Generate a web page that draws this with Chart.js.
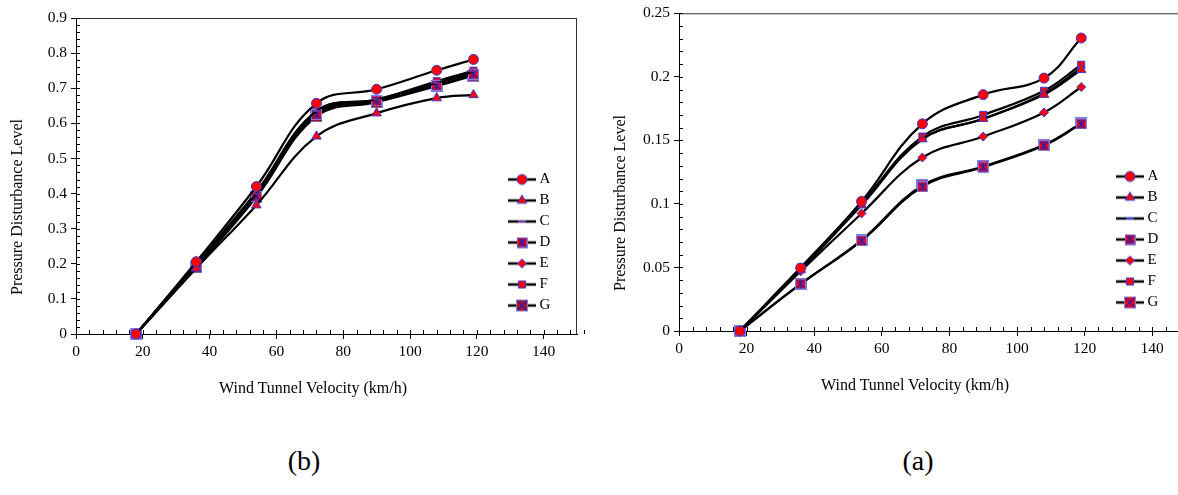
<!DOCTYPE html>
<html>
<head>
<meta charset="utf-8">
<script src="https://cdn.jsdelivr.net/npm/chart.js"></script>
<style>
  body { margin: 0; width: 1178px; height: 495px; overflow: hidden; background: #fff; position: relative; }
  canvas { position: absolute; top: 0; }
  .lab { position: absolute; font-family: 'Liberation Serif', 'Times New Roman', serif; font-size: 16px;
         line-height: 1; white-space: nowrap; color: #000; transform: translate(-50%, -50%); }
  .ylab { transform: translate(-50%, -50%) rotate(-90deg); }
  .panel { font-size: 28px; }
</style>
</head>
<body>
<canvas id="chartB" width="600" height="420" style="left:0"></canvas>
<canvas id="chartA" width="620" height="420" style="left:590px"></canvas>

<div class="lab ylab" style="left:17px;top:207px">Pressure Disturbance Level</div>
<div class="lab ylab" style="left:620px;top:203px">Pressure Disturbance Level</div>
<div class="lab" style="left:313px;top:388px">Wind Tunnel Velocity (km/h)</div>
<div class="lab" style="left:915px;top:385px">Wind Tunnel Velocity (km/h)</div>
<div class="lab panel" style="left:304px;top:461px">(b)</div>
<div class="lab panel" style="left:918px;top:461px">(a)</div>

<script>
// wind tunnel velocities (km/h)
const velocity = [18, 36, 54, 72, 90, 108, 119];
const seriesNames = ['A', 'B', 'C', 'D', 'E', 'F', 'G'];

// panel (b)
const bA = [0, 0.206, 0.42, 0.657, 0.697, 0.751, 0.782];
const bB = [0, 0.187, 0.367, 0.563, 0.629, 0.672, 0.681];
const bC = [0, 0.2, 0.4, 0.635, 0.668, 0.715, 0.748];
const bD = [0, 0.195, 0.392, 0.625, 0.664, 0.708, 0.74];
const bE = [0, 0.2, 0.4, 0.63, 0.666, 0.714, 0.745];
const bF = [0, 0.2, 0.405, 0.634, 0.668, 0.72, 0.75];
const bG = [0, 0.19, 0.39, 0.62, 0.66, 0.706, 0.736];

// panel (a)
const aA = [0, 0.0495, 0.102, 0.163, 0.186, 0.199, 0.2305];
const aB = [0, 0.048, 0.099, 0.151, 0.167, 0.186, 0.2055];
const aC = [0, 0.048, 0.1, 0.151, 0.167, 0.187, 0.207];
const aD = [0, 0.037, 0.071, 0.1135, 0.129, 0.146, 0.163];
const aE = [0, 0.047, 0.0925, 0.1365, 0.153, 0.172, 0.192];
const aF = [0, 0.05, 0.1005, 0.153, 0.17, 0.189, 0.2095];
const aG = [0, 0.037, 0.0715, 0.1145, 0.1295, 0.1465, 0.1635];

// tick labels
const xTicks = [0, 20, 40, 60, 80, 100, 120, 140];
const bYTicks = [0, 0.1, 0.2, 0.3, 0.4, 0.5, 0.6, 0.7, 0.8, 0.9];
const aYTicks = [0, 0.05, 0.1, 0.15, 0.2, 0.25];

Chart.defaults.font.family = "'Liberation Serif', 'Times New Roman', serif";
Chart.defaults.color = '#000';

const RED = '#ff0000';
const BLUE = '#3b3bd6';

// red square with blue cross (and optional vertical bar)
function squareMark(size, fill, star) {
    const c = document.createElement('canvas');
    c.width = size; c.height = size;
    const g = c.getContext('2d');
    g.fillStyle = fill;
    g.fillRect(0, 0, size, size);
    g.strokeStyle = '#7f7fe8';
    g.lineWidth = 1;
    g.strokeRect(0.5, 0.5, size - 1, size - 1);
    g.strokeStyle = '#2020c0';
    g.lineWidth = 1.3;
    g.beginPath();
    g.moveTo(1.5, 1.5); g.lineTo(size - 1.5, size - 1.5);
    g.moveTo(size - 1.5, 1.5); g.lineTo(1.5, size - 1.5);
    if (star) { g.moveTo(size / 2, 1); g.lineTo(size / 2, size - 1); }
    g.stroke();
    return c;
}

// marker look for each series
function markers(dashColor, gFill) {
    return [
        { pointStyle: 'circle', pointRadius: 5 },
        { pointStyle: 'triangle', pointRadius: 5.5 },
        { pointStyle: 'line', pointRadius: 4, pointBorderColor: dashColor, pointBorderWidth: 2 },
        { pointStyle: squareMark(11, RED, true), pointRadius: 5.5 },
        { pointStyle: 'rectRot', pointRadius: 4.5 },
        { pointStyle: 'rect', pointRadius: 5 },
        { pointStyle: squareMark(12, gFill, false), pointRadius: 6 }
    ];
}

// legend icon: black line with the marker in the middle
function legendIcon(ds) {
    const c = document.createElement('canvas');
    c.width = 28; c.height = 16;
    const g = c.getContext('2d');
    g.strokeStyle = '#000';
    g.lineWidth = 2.5;
    g.beginPath(); g.moveTo(0, 8); g.lineTo(28, 8); g.stroke();
    g.fillStyle = ds.pointBackgroundColor;
    g.strokeStyle = ds.pointBorderColor;
    g.lineWidth = ds.pointBorderWidth;
    Chart.helpers.drawPoint(g, {
        pointStyle: ds.pointStyle, radius: ds.pointRadius, rotation: 0, borderWidth: ds.pointBorderWidth
    }, 14, 8);
    return c;
}

function makeDatasets(series, looks) {
    return series.map((vals, i) => Object.assign({
        label: seriesNames[i],
        data: velocity.map((v, j) => ({ x: v, y: vals[j] })),
        borderColor: '#000',
        borderWidth: 2.2,
        tension: 0.4,
        fill: false,
        clip: false,
        pointBackgroundColor: RED,
        pointBorderColor: BLUE,
        pointBorderWidth: 1
    }, looks[i]));
}

// inner tick marks + top/right frame
const axisExtras = {
    id: 'axisExtras',
    beforeDatasetsDraw(chart, args, opts) {
        const { ctx, chartArea: a, scales: { x, y } } = chart;
        ctx.save();
        ctx.lineWidth = 1;
        ctx.strokeStyle = '#333';
        ctx.beginPath();
        ctx.moveTo(a.left, a.top + 0.5); ctx.lineTo(a.right, a.top + 0.5);
        ctx.moveTo(a.right - 0.5, a.top); ctx.lineTo(a.right - 0.5, a.bottom);
        ctx.stroke();
        ctx.strokeStyle = '#000';
        ctx.beginPath();
        const nx = Math.round((x.max - x.min) / opts.xStep);
        for (let i = 0; i <= nx; i++) {
            const px = Math.round(x.getPixelForValue(x.min + i * opts.xStep)) + 0.5;
            ctx.moveTo(px, a.bottom); ctx.lineTo(px, a.bottom - 4);
        }
        const ny = Math.round((y.max - y.min) / opts.yStep);
        for (let i = 0; i <= ny; i++) {
            const py = Math.round(y.getPixelForValue(y.min + i * opts.yStep)) + 0.5;
            ctx.moveTo(a.left, py); ctx.lineTo(a.left + 4, py);
        }
        ctx.stroke();
        ctx.restore();
    }
};

// put the legend inside the plot at a fixed spot
const legendSpot = {
    id: 'legendSpot',
    afterLayout(chart, args, opts) {
        chart.legend.left = opts.left;
        chart.legend.top = opts.top;
        chart.legend.bottom = opts.top + 300;
    }
};

function buildChart(id, series, looks, yMax, yTicks, yStep, box) {
    new Chart(document.getElementById(id), {
        type: 'line',
        data: { datasets: makeDatasets(series, looks) },
        plugins: [axisExtras, legendSpot],
        options: {
            responsive: false,
            animation: false,
            layout: { padding: { top: box.top, right: box.right, left: 0, bottom: 0 } },
            scales: {
                x: {
                    type: 'linear', min: 0, max: 150,
                    afterBuildTicks: s => { s.ticks = xTicks.map(v => ({ value: v })); },
                    afterFit: s => { s.height = box.xHeight; },
                    grid: { drawOnChartArea: false, tickLength: 5, color: '#000' },
                    border: { color: '#000', width: 1 },
                    ticks: { padding: 4, font: { size: 15.5 } }
                },
                y: {
                    type: 'linear', min: 0, max: yMax,
                    afterBuildTicks: s => { s.ticks = yTicks.map(v => ({ value: v })); },
                    afterFit: s => { s.width = box.yWidth; },
                    grid: { drawOnChartArea: false, tickLength: 5, color: '#000' },
                    border: { color: '#000', width: 1 },
                    ticks: { padding: 4, font: { size: 15.5 }, callback: v => String(v) }
                }
            },
            plugins: {
                axisExtras: { xStep: 4, yStep: yStep },
                legendSpot: { left: box.legendLeft, top: box.legendTop },
                tooltip: { enabled: false },
                legend: {
                    position: 'chartArea',
                    align: 'start',
                    labels: {
                        usePointStyle: true,
                        pointStyleWidth: 20,
                        padding: 6,
                        color: '#000',
                        font: { size: 15 },
                        generateLabels: chart => chart.data.datasets.map((ds, i) => ({
                            text: ds.label,
                            pointStyle: legendIcon(ds),
                            datasetIndex: i,
                            hidden: false,
                            lineWidth: 0,
                            fontColor: '#000'
                        }))
                    }
                }
            }
        }
    });
}

buildChart('chartB', [bA, bB, bC, bD, bE, bF, bG], markers('#7030a0', '#b41414'), 0.9, bYTicks, 0.02,
    { top: 18, right: 23, xHeight: 86, yWidth: 76, legendLeft: 506, legendTop: 166 });

buildChart('chartA', [aA, aB, aC, aD, aE, aF, aG], markers('#3b3bd6', RED), 0.25, aYTicks, 0.01,
    { top: 13, right: 24, xHeight: 89, yWidth: 89, legendLeft: 524, legendTop: 163 });
</script>
</body>
</html>
